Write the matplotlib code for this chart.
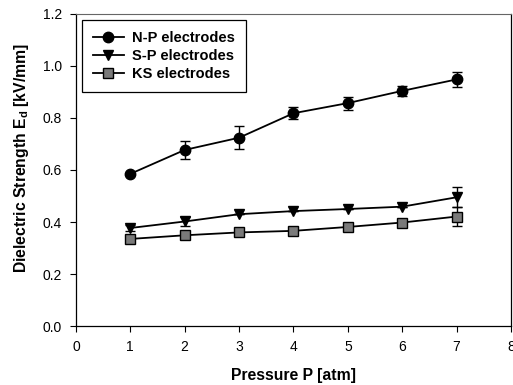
import matplotlib
matplotlib.use("Agg")
import matplotlib.pyplot as plt

# data
pressure = [1, 2, 3, 4, 5, 6, 7]

np_mean = [0.585, 0.677, 0.724, 0.818, 0.857, 0.904, 0.948]
np_err = [0.0, 0.035, 0.045, 0.024, 0.025, 0.018, 0.03]

sp_mean = [0.377, 0.402, 0.430, 0.442, 0.450, 0.459, 0.495]
sp_err = [0.012, 0.018, 0.0, 0.0, 0.0, 0.0, 0.038]

ks_mean = [0.335, 0.349, 0.360, 0.366, 0.381, 0.398, 0.421]
ks_err = [0.0, 0.0, 0.0, 0.0, 0.0, 0.0, 0.037]

labels = ['N-P electrodes', 'S-P electrodes', 'KS electrodes']
x_ticks = [0, 1, 2, 3, 4, 5, 6, 7, 8]
y_ticks = [0.0, 0.2, 0.4, 0.6, 0.8, 1.0, 1.2]

plt.rcParams['font.family'] = ['Liberation Sans', 'DejaVu Sans']
plt.rcParams['mathtext.fontset'] = 'custom'
plt.rcParams['mathtext.rm'] = 'Liberation Sans:bold'
plt.rcParams['mathtext.bf'] = 'Liberation Sans:bold'

fig = plt.figure(figsize=(5.13, 3.85), dpi=100)
ax = fig.add_axes([0.148, 0.153, 0.848, 0.811])

common = dict(color='black', linewidth=1.3, elinewidth=1.0, capsize=3.5, capthick=1.0)
c1 = ax.errorbar(pressure, np_mean, yerr=np_err, marker='o', markersize=7.5,
                 markerfacecolor='black', **common)
c2 = ax.errorbar(pressure, sp_mean, yerr=sp_err, marker='v', markersize=7.5,
                 markerfacecolor='black', **common)
c3 = ax.errorbar(pressure, ks_mean, yerr=ks_err, marker='s', markersize=6.5,
                 markerfacecolor='#7a7a7a', markeredgecolor='black', markeredgewidth=1.0,
                 **common)

ax.set_xlim(0, 8)
ax.set_ylim(0, 1.2)
ax.set_xticks(x_ticks)
ax.set_yticks(y_ticks)
ax.set_yticklabels([f"{v:.1f}" for v in y_ticks])
ax.tick_params(direction='out', length=4, width=0.8, labelsize=10)
ax.tick_params(axis='x', pad=6)
ax.tick_params(axis='y', pad=6)

for side in ['left', 'bottom', 'right']:
    ax.spines[side].set_linewidth(0.9)
ax.spines['top'].set_color('#666666')
ax.spines['top'].set_linewidth(0.8)

ax.set_xlabel('Pressure P [atm]', fontsize=11.3, fontweight='bold', labelpad=10)
ax.set_ylabel(r'Dielectric Strength E$_{\mathrm{d}}$ [kV/mm]', fontsize=11.3,
              fontweight='bold')
ax.yaxis.set_label_coords(-0.103, 0.538)

leg = ax.legend([c1.lines[0], c2.lines[0], c3.lines[0]], labels,
                loc='upper left', fancybox=False, edgecolor='black', framealpha=1,
                prop={'weight': 'bold', 'size': 10.5}, handlelength=2.1,
                handletextpad=0.6, borderpad=0.75, labelspacing=0.3,
                borderaxespad=0, bbox_to_anchor=(0.014, 0.981))
leg.get_frame().set_linewidth(0.9)

fig.savefig('out.png', dpi=100)
